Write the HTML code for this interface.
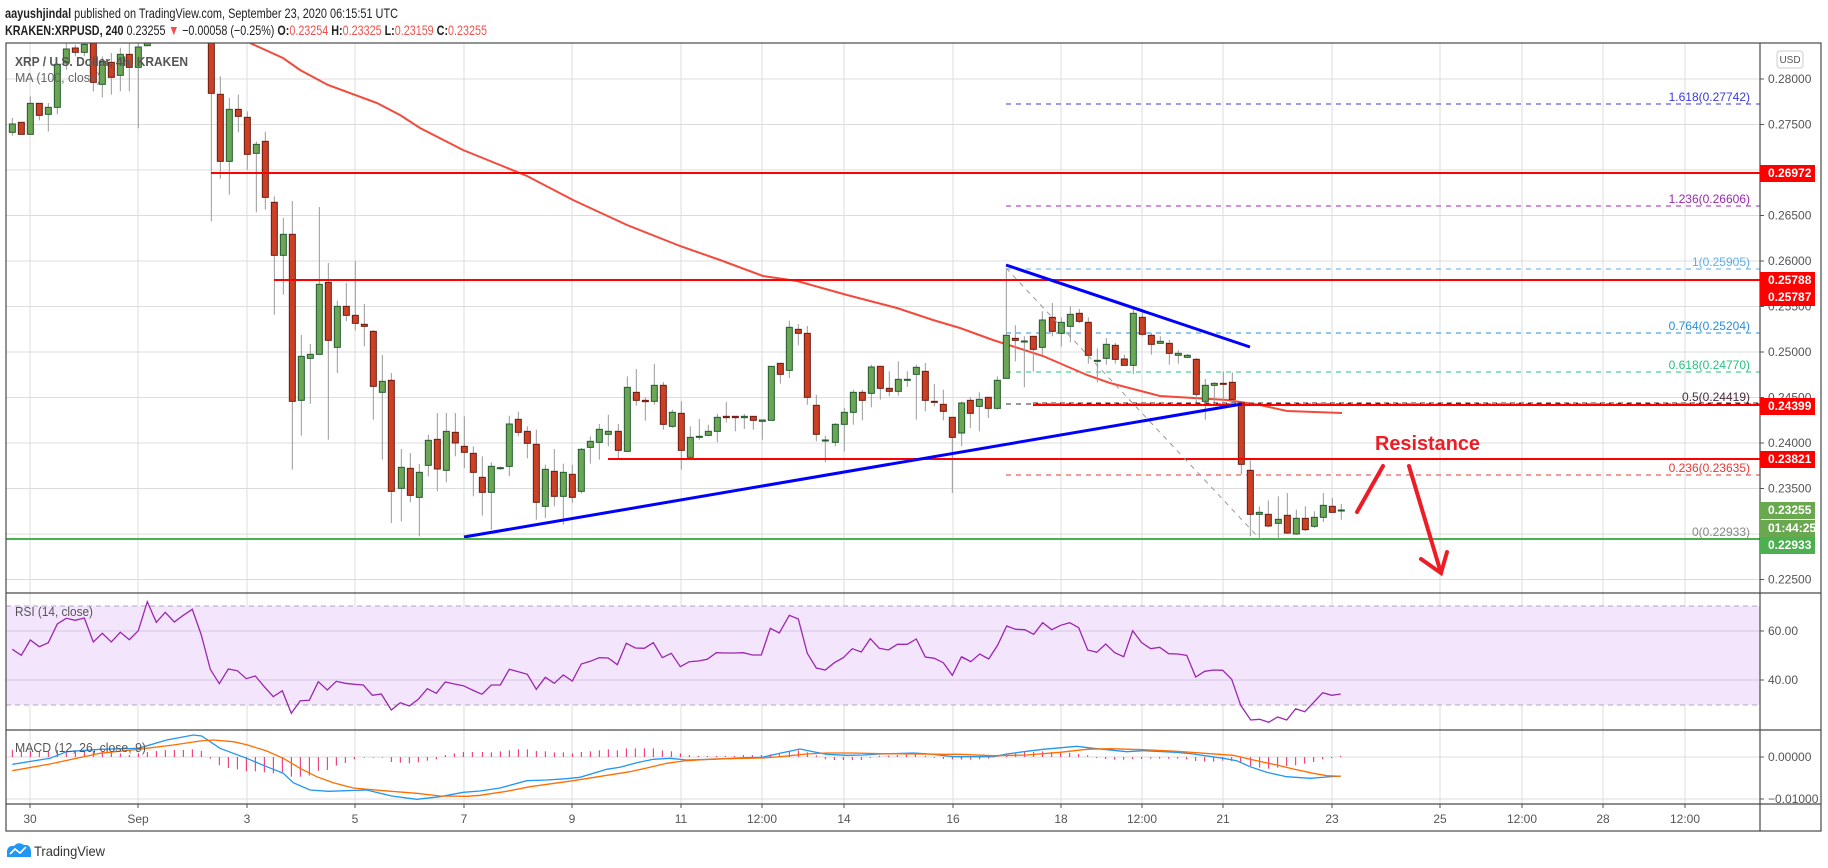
<!DOCTYPE html>
<html><head><meta charset="utf-8">
<style>
html,body{margin:0;padding:0;background:#fff;width:1828px;height:868px;overflow:hidden}
svg{display:block;font-family:"Liberation Sans",sans-serif}
</style></head>
<body>
<svg id="s" width="1828" height="868" xmlns="http://www.w3.org/2000/svg">
<defs>
<clipPath id="cm"><rect x="6" y="43" width="1754" height="550"/></clipPath>
<clipPath id="cr"><rect x="6" y="593" width="1754" height="137"/></clipPath>
<clipPath id="cd"><rect x="6" y="730" width="1754" height="74"/></clipPath>
</defs>
<g id="grid"></g>
<g id="main" clip-path="url(#cm)"></g>
<g id="rsi" clip-path="url(#cr)"></g>
<g id="macd" clip-path="url(#cd)"></g>
<g id="over"></g>
</svg>
<script>
const NS="http://www.w3.org/2000/svg";
function el(parent,tag,attrs,text){const e=document.createElementNS(NS,tag);for(const k in attrs)e.setAttribute(k,attrs[k]);if(text!==undefined)e.textContent=text;document.getElementById(parent).appendChild(e);return e;}
const G='grid',M='main',R='rsi',D='macd',O='over';
// vertical grid
const vx=[30,138,247,355,464,572,681,762,844,953,1061,1142,1223,1332,1440,1522,1603,1685];
vx.forEach(x=>{el(G,'line',{x1:x,y1:43,x2:x,y2:804,stroke:'#dcdcdc','stroke-width':1});});
// horizontal price grid
const py=p=>79+(0.28-p)*9100;
for(let i=0;i<=11;i++){const p=0.28-i*0.005;const y=py(p);el(G,'line',{x1:6,y1:y,x2:1760,y2:y,stroke:'#dcdcdc','stroke-width':1});}
// RSI band
el(G,'rect',{x:6,y:606,width:1754,height:99,fill:'#f3e5fc'});
[631,680].forEach(y=>el(G,'line',{x1:6,y1:y,x2:1760,y2:y,stroke:'#d6c6e0','stroke-width':1}));
[606,705].forEach(y=>el(G,'line',{x1:6,y1:y,x2:1760,y2:y,stroke:'#b0a8b8','stroke-width':1,'stroke-dasharray':'5,4'}));
[757,799].forEach(y=>el(G,'line',{x1:6,y1:y,x2:1760,y2:y,stroke:'#dcdcdc','stroke-width':1}));

// fib lines
const fib=[[104,'#3a3ad6','1.618(0.27742)'],[206,'#9c27b0','1.236(0.26606)'],[269,'#5eaee6','1(0.25905)'],[333,'#2a8fd6','0.764(0.25204)'],[372,'#26c281','0.618(0.24770)'],[404,'#333','0.5(0.24419)'],[475,'#e53935','0.236(0.23635)']];
fib.forEach(f=>{el(M,'line',{x1:1006,y1:f[0],x2:1760,y2:f[0],stroke:f[1],'stroke-width':1,'stroke-dasharray':'5,5'});});
// MA
const ma=[[250,43],[283,58],[300,70],[328,85],[377,103],[400,115],[420,128],[463,150],[500,165],[527,176],[573,200],[627,225],[680,246],[720,260],[763,276],[797,281],[847,295],[897,308],[933,320],[960,328],[993,340],[1043,356],[1087,375],[1110,383],[1160,396],[1227,400],[1260,405],[1287,411],[1342,413]];
el(M,'polyline',{points:ma.map(p=>p.join(',')).join(' '),fill:'none',stroke:'#f4493b','stroke-width':2});
// candles
const A=[[37,243,268,225,278,'g'],[64,238,274,238,274,'r'],[91,181,274,160,274,'g'],[118,181,217,181,232,'r'],[145,193,214,180,266,'g'],[172,64,193,60,214,'g'],[199,18,60,0,80,'g'],[226,15,28,5,40,'r'],[253,4,28,-20,40,'g'],[280,-30,118,-60,145,'r'],[307,55,124,40,163,'g'],[334,58,103,30,155,'r'],[361,34,97,14,145,'g'],[388,34,73,0,145,'r'],[415,12,73,-20,256,'g'],[442,-10,8,-30,10,'g'],
[634,-100,151,-120,535,'r'],[661,154,355,100,407,'r'],[688,199,355,165,455,'g'],[715,199,220,155,268,'r'],[742,223,334,205,380,'r'],[769,304,331,295,508,'g'],[796,295,463,266,500,'r'],[823,478,637,460,815,'r'],[850,574,637,525,755,'g'],[877,574,1075,474,1280,'r'],[904,940,1072,876,1178,'g'],[931,934,946,903,1082,'g'],[958,724,934,492,934,'g'],[985,718,892,660,1190,'r'],[1012,790,913,773,990,'g'],[1039,790,817,720,835,'r'],[1066,817,841,655,862,'r'],[1093,844,850,783,910,'r'],[1120,865,1030,862,1130,'r'],[1147,1015,1048,936,1250,'g'],[1174,1012,1345,990,1440,'r'],[1204,1273,1336,1218,1435,'g'],[1231,1276,1357,1230,1378,'r'],[1258,1288,1363,1263,1480,'g'],[1285,1192,1267,1175,1300,'g'],[1312,1189,1278,1110,1345,'r'],[1339,1165,1282,1110,1318,'g'],[1366,1168,1200,1110,1240,'r'],[1393,1210,1228,1120,1275,'r'],[1420,1231,1288,1210,1360,'r'],[1447,1303,1348,1240,1418,'r'],[1474,1270,1348,1258,1460,'g']];
const B=[[61,1274,1276,1270,1280,'g'],[88,1143,1270,1118,1300,'g'],[115,1129,1168,1106,1180,'r'],[142,1165,1201,1150,1246,'r'],[169,1204,1378,1160,1430,'r'],[196,1279,1390,1265,1425,'g'],[223,1285,1360,1218,1390,'r'],[250,1288,1360,1262,1445,'g'],[277,1294,1363,1265,1380,'r'],[304,1219,1345,1215,1352,'g'],[331,1195,1213,1180,1262,'g'],[358,1159,1198,1143,1250,'g'],[385,1165,1174,1115,1210,'g'],[415,1165,1222,1143,1250,'r'],[442,1033,1225,1000,1225,'g'],[469,1048,1072,978,1088,'r'],[496,1072,1076,1063,1133,'r'],[523,1027,1075,963,1085,'g'],[550,1027,1144,1017,1160,'r'],[577,1108,1150,1100,1155,'g'],[604,1111,1222,1075,1280,'r'],[631,1183,1243,1150,1245,'g'],[658,1180,1182,1128,1190,'g'],[685,1165,1177,1145,1180,'g'],[712,1123,1165,1112,1198,'g'],[739,1120,1124,1077,1138,'r'],[766,1120,1124,1120,1165,'r'],[793,1120,1124,1113,1158,'g'],[820,1120,1132,1120,1160,'r'],[847,1131,1135,1130,1190,'g'],[874,970,1132,970,1132,'g'],[901,961,994,961,1022,'r'],[928,853,982,833,1005,'g'],[955,859,871,843,907,'r'],[982,871,1063,849,1085,'r'],[1009,1087,1174,1055,1195,'r'],[1036,1191,1193,1178,1258,'g'],[1066,1144,1198,1140,1210,'g'],[1093,1108,1144,1095,1225,'g'],[1120,1048,1108,1040,1145,'g'],[1147,1048,1072,1040,1132,'r'],[1174,972,1051,965,1093,'g'],[1201,970,1036,970,1070,'r'],[1228,1036,1045,985,1060,'r'],[1255,1009,1045,955,1058,'g'],[1282,1009,1011,985,1032,'g'],[1309,973,994,965,1130,'g'],[1336,985,1072,960,1105,'r'],[1363,1075,1078,1023,1090,'r'],[1390,1084,1105,1040,1132,'r'],[1417,1123,1183,1123,1350,'r']];
const C=[[5,1080,1170,1075,1210,'g'],[31,1072,1111,1062,1155,'r'],[58,1069,1090,1048,1165,'g'],[85,1063,1096,1063,1125,'r'],[112,1012,1096,1000,1100,'g'],[139,877,1006,680,1006,'g'],[166,886,892,847,955,'r'],[193,894,896,880,1033,'g'],[220,880,919,880,986,'r'],[247,831,913,805,935,'g'],[277,823,865,780,880,'r'],[304,838,871,823,910,'g'],[331,814,850,790,898,'g'],[358,811,835,798,840,'r'],[385,838,937,823,962,'r'],[412,952,955,916,1018,'g'],[439,904,946,885,965,'g'],[466,907,949,900,962,'r'],[493,948,967,935,968,'r'],[520,811,967,798,993,'g'],[547,823,874,800,880,'r'],[574,877,904,870,935,'r'],[601,895,901,880,902,'g'],[628,901,931,890,965,'r'],[655,931,937,922,962,'g'],[682,937,943,933,945,'g'],[709,949,1054,945,1080,'r'],[736,1027,1075,1008,1130,'g'],[763,1021,1027,1018,1082,'g'],[790,1021,1024,985,1075,'r'],[817,1018,1069,988,1082,'r'],[844,1080,1264,1080,1294,'r'],[871,1282,1414,1252,1480,'r'],[898,1408,1414,1390,1485,'g'],[925,1414,1449,1372,1453,'r'],[955,1429,1441,1360,1485,'g'],[982,1417,1470,1350,1472,'r'],[1009,1426,1473,1400,1476,'g'],[1036,1426,1460,1390,1465,'r'],[1063,1423,1450,1405,1455,'g'],[1090,1387,1423,1350,1437,'g'],[1117,1390,1408,1365,1410,'r'],[1144,1401,1403,1383,1430,'g']];
function drawC(arr,xo){arr.forEach(c=>{const x=xo+c[0]/3,t=43+c[1]/3,b=43+c[2]/3,wt=43+c[3]/3,wb=43+c[4]/3;
el(M,'line',{x1:x,y1:wt,x2:x,y2:wb,stroke:'#9a9a9a','stroke-width':1});
const g=c[5]=='g';el(M,'rect',{x:x-3,y:t,width:6,height:Math.max(1,b-t),fill:g?'#6aa653':'#cc4125',stroke:g?'#225a30':'#6b1b10','stroke-width':1});});}
drawC(A,0);drawC(B,480);drawC(C,960);
// red horizontal lines
[[211,173],[274,280],[1033,405],[608,459]].forEach(l=>el(M,'line',{x1:l[0],y1:l[1],x2:1760,y2:l[1],stroke:'#ff0000','stroke-width':2}));
el(M,'line',{x1:1033,y1:403,x2:1760,y2:403,stroke:'#333','stroke-width':1,'stroke-dasharray':'5,4'});
// blue lines
el(M,'line',{x1:464,y1:537,x2:1242,y2:404,stroke:'#0000ff','stroke-width':3});
el(M,'line',{x1:1006,y1:265,x2:1250,y2:347,stroke:'#0000ff','stroke-width':3});
// diagonal
el(M,'line',{x1:1006,y1:268,x2:1259,y2:538,stroke:'#999','stroke-width':1,'stroke-dasharray':'5,5'});
// green
el(M,'line',{x1:6,y1:539,x2:1760,y2:539,stroke:'#4caf50','stroke-width':2});
// fib labels
fib.forEach(f=>el(M,'text',{x:1750,y:f[0]-3,'text-anchor':'end','font-size':12,fill:f[1]=='#333'?'#4a2a3a':f[1]},f[2]));
el(M,'text',{x:1750,y:536,'text-anchor':'end','font-size':12,fill:'#888'},'0(0.22933)');
// resistance + arrows
el(M,'text',{x:1375,y:450,'font-size':20,'font-weight':'bold',fill:'#ee1c25',textLength:105,lengthAdjust:'spacingAndGlyphs'},'Resistance');
const ar={stroke:'#ee1c25','stroke-width':4,'stroke-linecap':'round',fill:'none'};
el(M,'line',Object.assign({x1:1357,y1:512,x2:1383,y2:466},ar));
el(M,'line',Object.assign({x1:1409,y1:466,x2:1441,y2:573},ar));
el(M,'polyline',Object.assign({points:'1421,559 1441,573 1447,552'},ar));
// legend texts
el(O,'text',{x:15,y:66,'font-size':13,'font-weight':'bold',fill:'#555',textLength:173,lengthAdjust:'spacingAndGlyphs'},'XRP / U.S. Dollar, 4h, KRAKEN');
el(O,'text',{x:15,y:82,'font-size':13,fill:'#666',textLength:86,lengthAdjust:'spacingAndGlyphs'},'MA (100, close)');

// RSI
const rA=[[37,328],[64,346],[91,300],[118,320],[145,308],[172,252],[199,235],[226,241],[253,234],[280,306],[307,280],[334,306],[361,277],[388,299],[415,272],[442,185],[469,247],[496,217],[523,246],[550,226],[577,208],[604,285],[631,388],[658,431],[685,387],[712,392],[739,416],[766,408],[793,440],[820,470],[847,452],[874,520],[901,482],[928,481],[955,425],[982,450],[1009,424],[1036,430],[1063,433],[1090,435],[1117,466],[1144,462],[1174,510],[1201,488],[1228,498],[1255,478],[1282,446],[1309,460],[1336,426],[1363,432],[1390,437],[1417,450],[1444,462]].map(p=>[p[0]/3,540+p[1]/3]);
const rB=[[7,312],[34,285],[61,285],[88,238],[115,245],[142,253],[169,298],[196,262],[223,280],[250,255],[277,273],[304,222],[331,214],[358,203],[385,204],[412,224],[439,160],[466,174],[493,175],[520,158],[547,203],[574,190],[601,230],[628,215],[655,213],[682,208],[709,188],[736,189],[763,189],[790,188],[817,195],[844,195],[871,115],[898,129],[928,76],[955,87],[982,190],[1009,234],[1036,240],[1063,218],[1090,203],[1117,176],[1144,186],[1171,146],[1198,175],[1225,180],[1252,163],[1282,163],[1309,147],[1336,201],[1363,205],[1390,218],[1417,256],[1444,201],[1471,214]].map(p=>[480+p[0]/3,590+p[1]/3]);
const rC=[[5,200],[32,215],[59,192],[86,207],[113,165],[140,108],[167,118],[194,119],[221,133],[248,98],[275,119],[302,106],[329,98],[356,113],[383,180],[410,187],[437,162],[464,188],[491,200],[518,122],[545,158],[572,176],[599,172],[626,191],[653,192],[680,196],[707,261],[734,244],[761,240],[788,241],[815,268],[842,346],[872,390],[899,388],[926,397],[953,381],[980,390],[1007,356],[1034,365],[1061,337],[1088,308],[1115,316],[1142,312]].map(p=>[960+p[0]/3,590+p[1]/3]);
el(R,'polyline',{points:rA.concat(rB,rC).map(p=>p[0].toFixed(1)+','+p[1].toFixed(1)).join(' '),fill:'none',stroke:'#9c27b0','stroke-width':1.3});
el(O,'text',{x:15,y:616,'font-size':13,fill:'#555',textLength:78,lengthAdjust:'spacingAndGlyphs'},'RSI (14, close)');

// MACD histogram
const hA=[[37,630],[64,632],[91,633],[118,633],[145,633],[172,630],[199,632],[226,630],[253,632],[280,633],[307,635],[334,636],[361,640],[388,645],[415,640],[442,636],[469,633],[496,630],[523,630],[550,630],[577,628],[604,633],[631,656],[658,676],[685,684],[712,688],[739,694],[766,694],[793,697],[820,700],[847,697],[874,710],[901,710],[928,707],[955,692],[982,690],[1009,677],[1036,669],[1063,658],[1093,653],[1120,653],[1147,653],[1174,666],[1201,668],[1228,670],[1255,667],[1282,662],[1309,658],[1336,645],[1363,640],[1390,636],[1417,636]].map(p=>[p[0]/3,540+p[1]/3]);
const hB=[[7,486],[34,487],[61,484],[88,481],[115,478],[142,478],[169,483],[196,484],[223,487],[250,487],[277,490],[304,486],[331,484],[358,481],[385,478],[412,481],[439,475],[466,475],[493,475],[520,475],[547,481],[574,484],[601,490],[628,495],[655,498],[682,498],[709,498],[736,498],[763,498],[790,495],[817,495],[844,495],[871,493],[898,490],[928,484],[955,481],[982,487],[1009,496],[1036,508],[1063,510],[1090,510],[1117,510],[1144,510],[1171,504],[1198,497],[1225,497],[1252,495],[1279,493],[1306,493],[1336,498],[1363,504],[1390,507],[1417,508],[1444,508]].map(p=>[480+p[0]/3,590+p[1]/3]);
const hC=[[5,508],[32,509],[59,508],[86,506],[113,500],[140,495],[167,490],[194,486],[221,486],[248,484],[275,486],[302,486],[329,488],[356,492],[383,496],[410,504],[437,507],[464,509],[491,509],[518,507],[545,507],[572,506],[599,506],[626,506],[653,506],[680,508],[707,513],[734,515],[761,515],[788,512],[815,513],[842,519],[872,528],[899,533],[926,536],[953,533],[980,528],[1007,526],[1034,521],[1061,516],[1088,508],[1115,504],[1142,498]].map(p=>[960+p[0]/3,590+p[1]/3]);
hA.concat(hB,hC).forEach(h=>el(D,'line',{x1:h[0],y1:757,x2:h[0],y2:h[1],stroke:'#f0226a','stroke-width':1}));
const bA=[[37,673],[150,655],[200,635],[300,628],[415,625],[500,600],[580,585],[605,588],[660,625],[740,655],[800,680],[850,700],[880,728],[930,750],[985,754],[1100,750],[1175,768],[1250,778],[1320,770],[1390,757]].map(p=>[p[0]/3,540+p[1]/3]);
const bB=[[0,603],[60,594],[140,572],[200,570],[260,566],[300,562],[380,538],[420,532],[470,518],[520,508],[570,505],[620,510],[700,508],[800,503],[847,502],[900,490],[960,477],[1000,485],[1040,493],[1100,496],[1150,495],[1200,492],[1300,489],[1350,492],[1420,500]].map(p=>[480+p[0]/3,590+p[1]/3]);
const bC=[[0,500],[100,500],[140,492],[200,484],[250,478],[350,469],[400,475],[500,485],[550,482],[650,487],[700,492],[790,505],[830,512],[870,530],[920,547],[980,560],[1050,565],[1100,561],[1142,558]].map(p=>[960+p[0]/3,590+p[1]/3]);
const oA=[[37,692],[150,672],[300,640],[415,628],[520,615],[600,603],[640,600],[700,605],[740,614],[800,633],[850,655],[900,685],[950,710],[1000,728],[1060,744],[1150,752],[1250,760],[1320,768],[1400,769]].map(p=>[p[0]/3,540+p[1]/3]);
const oB=[[0,616],[80,604],[150,590],[280,572],[400,553],[450,545],[500,534],[560,520],[610,513],[700,507],[850,504],[900,500],[980,492],[1040,489],[1120,489],[1200,491],[1300,492],[1400,493]].map(p=>[480+p[0]/3,590+p[1]/3]);
const oC=[[0,493],[100,497],[200,495],[300,487],[380,478],[450,476],[550,479],[650,484],[750,491],[820,496],[870,508],[950,525],[1000,537],[1060,550],[1100,557],[1142,559]].map(p=>[960+p[0]/3,590+p[1]/3]);
const pl=a=>a.map(p=>p[0].toFixed(1)+','+p[1].toFixed(1)).join(' ');
el(D,'polyline',{points:pl(bA.concat(bB,bC)),fill:'none',stroke:'#2196f3','stroke-width':1.3});
el(D,'polyline',{points:pl(oA.concat(oB,oC)),fill:'none',stroke:'#ff6d00','stroke-width':1.3});
el(O,'text',{x:15,y:752,'font-size':13,fill:'#555',textLength:131,lengthAdjust:'spacingAndGlyphs'},'MACD (12, 26, close, 9)');

// frame
el(O,'rect',{x:6,y:43,width:1815,height:788,fill:'none',stroke:'#4a4a4a','stroke-width':1.2});
[593,730,804].forEach(y=>el(O,'line',{x1:6,y1:y,x2:1821,y2:y,stroke:'#4a4a4a','stroke-width':1.2}));
el(O,'line',{x1:1760,y1:43,x2:1760,y2:831,stroke:'#4a4a4a','stroke-width':1.2});
// price axis labels
const pl2=[[0.28,'0.28000'],[0.275,'0.27500'],[0.265,'0.26500'],[0.26,'0.26000'],[0.255,'0.25500'],[0.25,'0.25000'],[0.245,'0.24500'],[0.24,'0.24000'],[0.235,'0.23500'],[0.225,'0.22500']];
pl2.forEach(p=>{const y=py(p[0]);el(O,'line',{x1:1760,y1:y,x2:1764,y2:y,stroke:'#555'});el(O,'text',{x:1768,y:y+4,'font-size':12,fill:'#555'},p[1]);});
[[631,'60.00'],[680,'40.00']].forEach(p=>{el(O,'line',{x1:1760,y1:p[0],x2:1764,y2:p[0],stroke:'#555'});el(O,'text',{x:1768,y:p[0]+4,'font-size':12,fill:'#555'},p[1]);});
[[757,'0.00000'],[799,'\u22120.01000']].forEach(p=>{el(O,'line',{x1:1760,y1:p[0],x2:1764,y2:p[0],stroke:'#555'});el(O,'text',{x:1768,y:p[0]+4,'font-size':12,fill:'#555'},p[1]);});
// colored boxes
function box(y,c,t,h){el(O,'rect',{x:1760,y:y-8,width:55,height:h||17,fill:c});el(O,'text',{x:1768,y:y+4,'font-size':12,'font-weight':'bold',fill:'#fff'},t);}
box(173,'#ff0000','0.26972');
el(O,'rect',{x:1760,y:272,width:55,height:34,fill:'#ff0000'});
el(O,'text',{x:1768,y:284,'font-size':12,'font-weight':'bold',fill:'#fff'},'0.25788');
el(O,'text',{x:1768,y:301,'font-size':12,'font-weight':'bold',fill:'#fff'},'0.25787');
box(406,'#ff0000','0.24399');
box(459,'#ff0000','0.23821');
box(510,'#6aa84f','0.23255');
box(528,'#6aa84f','01:44:25');
box(545,'#4caf50','0.22933');
// USD
el(O,'rect',{x:1777,y:51,width:26,height:17,rx:3,fill:'#fff',stroke:'#ccc'});
el(O,'text',{x:1790,y:63,'font-size':10,fill:'#555','text-anchor':'middle'},'USD');
// time labels
const tl=[[30,'30'],[138,'Sep'],[247,'3'],[355,'5'],[464,'7'],[572,'9'],[681,'11'],[762,'12:00'],[844,'14'],[953,'16'],[1061,'18'],[1142,'12:00'],[1223,'21'],[1332,'23'],[1440,'25'],[1522,'12:00'],[1603,'28'],[1685,'12:00']];
tl.forEach(t=>{el(O,'line',{x1:t[0],y1:804,x2:t[0],y2:808,stroke:'#555'});el(O,'text',{x:t[0],y:823,'font-size':12,fill:'#555','text-anchor':'middle'},t[1]);});
// header
const h1=el(O,'text',{x:5,y:18,'font-size':14,fill:'#222',textLength:393,lengthAdjust:'spacingAndGlyphs'});
h1.innerHTML='<tspan font-weight="bold">aayushjindal</tspan> published on TradingView.com, September 23, 2020 06:15:51 UTC';
const h2=el(O,'text',{x:5,y:35,'font-size':14,fill:'#222',textLength:482,lengthAdjust:'spacingAndGlyphs'});
h2.innerHTML='<tspan font-weight="bold">KRAKEN:XRPUSD, 240</tspan> 0.23255 <tspan fill="#ef5350">\u25BC</tspan> \u22120.00058 (\u22120.25%) <tspan font-weight="bold">O:</tspan><tspan fill="#ef5350">0.23254</tspan> <tspan font-weight="bold">H:</tspan><tspan fill="#ef5350">0.23325</tspan> <tspan font-weight="bold">L:</tspan><tspan fill="#ef5350">0.23159</tspan> <tspan font-weight="bold">C:</tspan><tspan fill="#ef5350">0.23255</tspan>';
// logo
el(O,'path',{d:'M7 857 L7 851 Q8 845 14 846 Q18 841 24 845 Q30 844 31 851 L31 857 Z',fill:'#2196f3'});
el(O,'polyline',{points:'10,854 15,849 20,853 26,847',fill:'none',stroke:'#fff','stroke-width':1.6});
el(O,'text',{x:34,y:856,'font-size':14,fill:'#333',textLength:71,lengthAdjust:'spacingAndGlyphs'},'TradingView');
</script>
</body></html>
